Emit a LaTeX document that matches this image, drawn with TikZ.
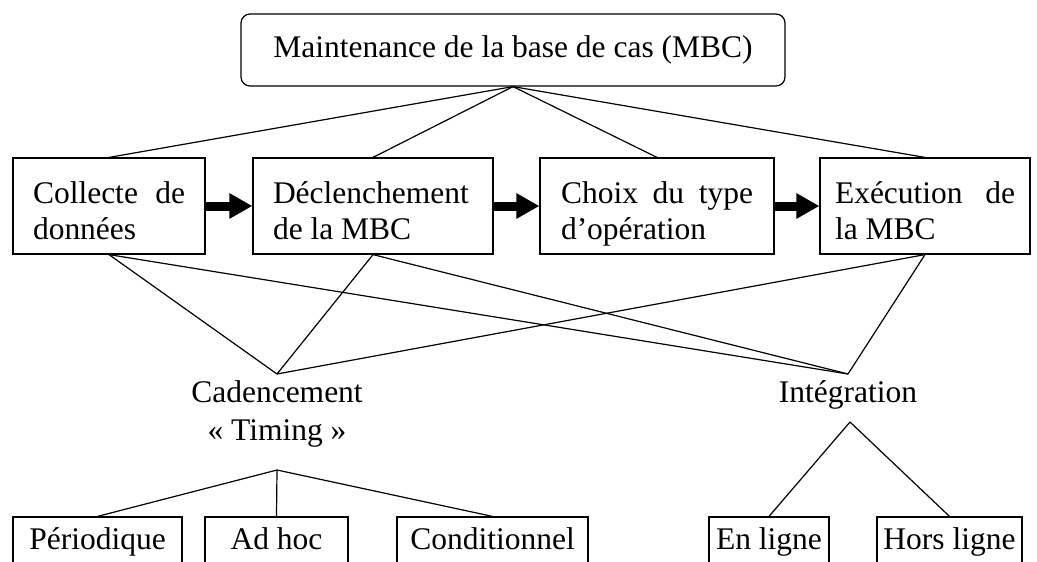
\documentclass[tikz,border=0pt]{standalone}
\usepackage{fontspec}
\setmainfont{Liberation Serif}
\usetikzlibrary{arrows.meta}
\hyphenpenalty=10000
\exhyphenpenalty=10000
\tolerance=10000
\begin{document}
\begin{tikzpicture}[x=1pt,y=-1pt,line width=1.2pt,
  every node/.style={font=\fontsize{31.5}{36}\selectfont},
  topbox/.style={draw,rectangle,rounded corners=9pt,minimum width=544pt,minimum height=72pt,inner sep=0pt},
  stepbox/.style={draw,rectangle,align=justify,minimum height=96pt,inner ysep=0pt,text height=30pt,text depth=36pt},
  leafbox/.style={draw,rectangle,anchor=base,text height=32pt,text depth=30pt,inner sep=0pt},
  bigarrow/.style={-{Triangle[length=23pt,width=24pt]},line width=9pt},
  link/.style={line width=1.2pt}
]
\useasboundingbox (0,0) rectangle (1037,562);
\clip (0,0) rectangle (1037,562);

\node[topbox] (mbc) at (513,50) {Maintenance de la base de cas (MBC)};

\node[stepbox,text width=152pt,inner xsep=20pt] (b1) at (109,206) {Collecte de données};
\node[stepbox,text width=200pt,inner xsep=20pt] (b2) at (373,206) {Déclenchement de la MBC};
\node[stepbox,text width=192pt,inner xsep=21pt] (b3) at (657,206) {Choix du type d’opération};
\node[stepbox,text width=180pt,inner xsep=15pt] (b4) at (925,206) {Exécution de la MBC};

\draw[bigarrow] (b1.east) -- (b2.west);
\draw[bigarrow] (b2.east) -- (b3.west);
\draw[bigarrow] (b3.east) -- (b4.west);

\foreach \b in {b1,b2,b3,b4} \draw[link] (mbc.south) -- (\b.north);

\coordinate (cadtop) at (277,374);
\coordinate (inttop) at (848,374);
\foreach \b in {b1,b2,b4} {
  \draw[link] (\b.south) -- (cadtop);
  \draw[link] (\b.south) -- (inttop);
}

\node[align=center,font=\fontsize{31.5}{38}\selectfont] (cad) at (277,414) {Cadencement\\«~Timing~»};
\node (int) at (848,395) {Intégration};

\coordinate (cadbot) at (277,470);
\coordinate (intbot) at (850,422);

\node[leafbox,minimum width=169pt] (p1) at (97.5,549) {Périodique};
\node[leafbox,minimum width=143pt] (p2) at (276.5,549) {Ad hoc};
\node[leafbox,minimum width=191pt] (p3) at (492.5,549) {Conditionnel};
\node[leafbox,minimum width=120pt] (e1) at (769,549) {En ligne};
\node[leafbox,minimum width=145pt] (e2) at (949.5,549) {Hors ligne};

\foreach \b in {p1,p2,p3} \draw[link] (cadbot) -- (\b.north);
\foreach \b in {e1,e2} \draw[link] (intbot) -- (\b.north);
\end{tikzpicture}
\end{document}
